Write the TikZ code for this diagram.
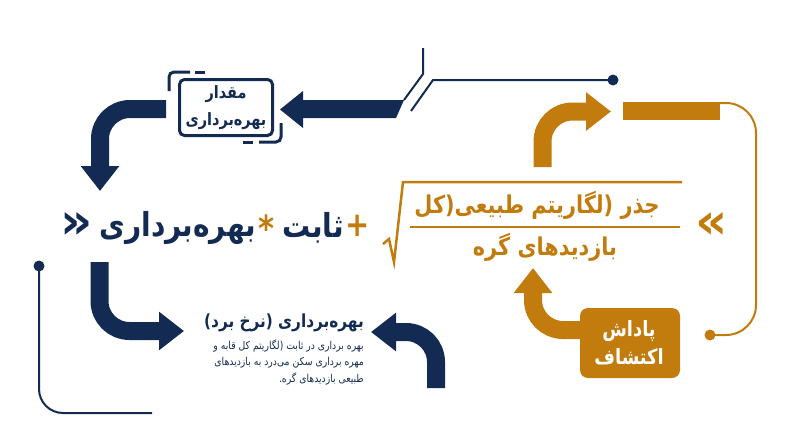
\documentclass[tikz,border=0pt]{standalone}
\usepackage{fontspec}
\usetikzlibrary{arrows.meta}
\TeXXeTstate=1
\newfontfamily\fa[Script=Arabic, FakeStretch=0.85]{DejaVu Sans}
\newfontfamily\faw[Script=Arabic]{DejaVu Sans}
\definecolor{navy}{HTML}{132B53}
\definecolor{gold}{HTML}{C27C0E}
\tikzset{
  bigarrow/.style={line width=18pt, rounded corners=30pt, -{Triangle[width=37pt,length=25pt]}},
  thinline/.style={line width=2pt, rounded corners=24pt},
  dotmark/.style={circle, inner sep=0pt, minimum size=11pt, fill=#1},
  txt/.style={inner sep=0pt, font=\fa\bfseries\fontsize{#1}{#1}\selectfont},
  chev/.style={inner sep=0pt, font=\faw\bfseries\fontsize{#1}{#1}\selectfont},
  body/.style={inner sep=0pt, anchor=east, text=navy, font=\fa\fontsize{10.9}{10.9}\selectfont},
}
\begin{document}
\begin{tikzpicture}[x=1pt,y=-1pt]
\useasboundingbox (0,0) rectangle (800,447);

% ---------- top navy arrow and lines ----------
\fill[navy] (404,100) -- (303,100) -- (303,91) -- (280,109.5) -- (303,128) -- (303,118) -- (396,118) -- cycle;
\draw[navy, line width=2pt] (423,48) -- (423,74) -- (404,100);
\node[dotmark=navy] (dtop) at (613,80) {};
\coordinate (l2s) at (411,111);
\draw[navy, line width=2pt] (l2s) -- (433,80) -- (dtop.center);

% ---------- box ----------
\node[draw=navy, line width=3pt, rounded corners=5pt, minimum width=93pt, minimum height=56pt, inner sep=0pt] (box) at (226,107.5) {};
\node[txt=17, text=navy] (boxt1) at (226,94) {\beginR مقدار\endR};
\node[txt=17, text=navy] (boxt2) at (226,121) {\beginR بهره‌برداری\endR};
\draw[navy, line width=3pt, rounded corners=5pt] (169,91) -- (169,72) -- (190,72);
\draw[navy, line width=3pt] (195,72) -- (205,72);
\draw[navy, line width=3pt, rounded corners=5pt] (259,142) -- (281,142) -- (281,123);
\draw[navy, line width=3pt] (243,142) -- (253,142);

% ---------- left navy arrow ----------
\coordinate (a1s) at (166,109);
\coordinate (a1e) at (100,191);
\draw[navy, bigarrow] (a1s) -- (100,109) -- (a1e);

% ---------- main line ----------
\node[chev=50, text=navy] (chevL) at (77,226) {«};
\node[txt=33, text=navy] (expl) at (178,228) {\beginR بهره‌برداری\endR};
\node[txt=36, text=gold] (star) at (266,228) {*};
\node[txt=33, text=navy] (sabet) at (313,228) {\beginR ثابت\endR};
\node[txt=34, text=gold] (plus) at (358,226) {+};
\draw[gold, line width=2.5pt] (383,244) -- (389,239) -- (394,262) -- (403,182) -- (682,182);
\node[txt=24.5, text=gold] (num) at (537,205) {\beginR جذر (لگاریتم طبیعی(کل\endR};
\draw[gold, line width=2.5pt] (410,227) -- (680,227);
\node[txt=24.5, text=gold] (den) at (545,247) {\beginR بازدیدهای گره\endR};
\node[chev=50, text=gold] (chevR) at (712,226) {»};

% ---------- bottom-left navy arrow ----------
\coordinate (a2s) at (99.5,262);
\coordinate (a2e) at (184,331);
\draw[navy, bigarrow] (a2s) -- (99.5,331) -- (a2e);
\node[dotmark=navy] (dleft) at (39,266) {};
\coordinate (lle) at (152,413);
\draw[navy, thinline] (dleft.center) -- (39,413) -- (lle);

% ---------- bottom text ----------
\node[txt=18, text=navy, anchor=east] (head) at (364,323) {\beginR بهره‌برداری (نرخ برد)\endR};
\node[body] (b1) at (364,346) {\beginR بهره برداری در ثابت (لگاریتم کل قابه و\endR};
\node[body] (b2) at (364,363) {\beginR مهره برداری سکن می‌درد به بازدیدهای\endR};
\node[body] (b3) at (364,379) {\beginR طبیعی بازدیدهای گره.\endR};

% ---------- bottom-middle navy arrow ----------
\coordinate (a3s) at (436,388);
\coordinate (a3e) at (371,332);
\draw[navy, bigarrow] (a3s) -- (436,332) -- (a3e);

% ---------- gold arrows ----------
\coordinate (g1s) at (542.5,167);
\coordinate (g1e) at (611,111.5);
\draw[gold, bigarrow] (g1s) -- (542.5,111.5) -- (g1e);
\fill[gold] (623,102) rectangle (720,120);
\coordinate (gbar) at (720,103);
\node[dotmark=gold] (dgold) at (710,335) {};
\draw[gold, line width=2pt, rounded corners=30pt] (gbar) -- (756,103) -- (756,335) -- (dgold.center);

\node[fill=gold, rounded corners=8pt, minimum width=100pt, minimum height=70pt, inner sep=0pt] (reward) at (630,343) {};
\node[txt=21, text=white] (rw1) at (629,331) {\beginR پاداش\endR};
\node[txt=21, text=white] (rw2) at (629,357) {\beginR اکتشاف\endR};

\coordinate (g2s) at (580,330);
\coordinate (g2e) at (533,268);
\draw[gold, bigarrow] (g2s) -- (533,330) -- (g2e);
\end{tikzpicture}
\end{document}
